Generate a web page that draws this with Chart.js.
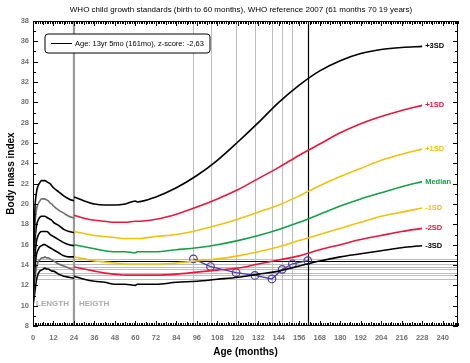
<!DOCTYPE html>
<html>
<head>
<meta charset="utf-8">
<script src="https://cdn.jsdelivr.net/npm/chart.js@4.4.1/dist/chart.umd.min.js"></script>
<style>
  html, body { margin: 0; padding: 0; background: #fff; }
</style>
</head>
<body>
<canvas id="growth" width="470" height="363"></canvas>
<script>
// WHO standards, BMI-for-length 0-24 months
const lenAges = [0, 1, 2, 3, 4, 5, 6, 7, 8, 9, 10, 11, 12, 15, 18, 21, 24];
const lenP3 = [11.2, 19.0, 21.1, 21.8, 22.1, 22.3, 22.3, 22.3, 22.2, 22.1, 22.0, 21.8, 21.6, 21.2, 20.8, 20.5, 20.3];
const lenP2 = [11.0, 17.4, 19.4, 20.0, 20.3, 20.5, 20.5, 20.5, 20.4, 20.3, 20.1, 20.0, 19.8, 19.4, 19.1, 18.8, 18.6];
const lenP1 = [10.8, 15.9, 17.8, 18.4, 18.7, 18.8, 18.8, 18.8, 18.7, 18.6, 18.5, 18.4, 18.2, 17.9, 17.5, 17.3, 17.2];
const lenMed = [10.6, 14.6, 16.3, 16.9, 17.2, 17.3, 17.3, 17.3, 17.3, 17.2, 17.0, 16.9, 16.8, 16.5, 16.2, 16.0, 15.9];
const lenM1 = [10.4, 13.4, 15.0, 15.5, 15.8, 15.9, 16.0, 16.0, 15.9, 15.8, 15.7, 15.6, 15.5, 15.2, 14.9, 14.8, 14.8];
const lenM2 = [10.2, 12.3, 13.7, 14.3, 14.5, 14.7, 14.7, 14.8, 14.7, 14.7, 14.6, 14.5, 14.4, 14.1, 13.9, 13.7, 13.5];
const lenM3 = [10.0, 11.2, 12.5, 13.1, 13.4, 13.5, 13.6, 13.7, 13.6, 13.6, 13.5, 13.4, 13.4, 13.1, 12.9, 12.8, 12.7];

// BMI-for-height 24-60 months, then WHO reference 2007 from 61 months
const refAges = [24, 30, 36, 42, 48, 54, 60, 61, 72, 84, 96, 108, 120, 132, 144, 156, 168, 180, 192, 204, 216, 228];
const refP3 = [20.7, 20.3, 20.0, 19.9, 19.9, 20.0, 20.3, 20.2, 20.7, 21.6, 22.8, 24.3, 26.1, 28.0, 30.0, 31.7, 33.1, 34.1, 34.8, 35.2, 35.4, 35.5];
const refP2 = [18.9, 18.6, 18.4, 18.3, 18.2, 18.2, 18.3, 18.3, 18.5, 19.0, 19.7, 20.5, 21.4, 22.5, 23.6, 24.8, 25.9, 27.0, 27.9, 28.6, 29.2, 29.7];
const refP1 = [17.3, 17.1, 16.9, 16.8, 16.7, 16.6, 16.6, 16.6, 16.8, 17.0, 17.4, 17.9, 18.5, 19.2, 19.9, 20.8, 21.8, 22.7, 23.5, 24.3, 24.9, 25.4];
const refMed = [16.0, 15.8, 15.6, 15.4, 15.3, 15.3, 15.2, 15.3, 15.3, 15.5, 15.7, 16.0, 16.4, 16.9, 17.5, 18.2, 19.0, 19.8, 20.5, 21.1, 21.7, 22.2];
const refM1 = [14.8, 14.6, 14.4, 14.3, 14.2, 14.1, 14.1, 14.1, 14.1, 14.2, 14.4, 14.6, 14.9, 15.3, 15.8, 16.4, 17.0, 17.6, 18.2, 18.8, 19.2, 19.6];
const refM2 = [13.8, 13.6, 13.4, 13.2, 13.1, 13.0, 13.0, 13.0, 13.0, 13.1, 13.3, 13.5, 13.7, 14.1, 14.5, 14.9, 15.5, 16.0, 16.5, 16.9, 17.3, 17.6];
const refM3 = [12.9, 12.6, 12.4, 12.3, 12.1, 12.1, 12.0, 12.1, 12.1, 12.3, 12.4, 12.6, 12.8, 13.1, 13.4, 13.9, 14.4, 14.8, 15.1, 15.4, 15.7, 15.9];

// patient measurements
const visitAges = [94, 104, 119, 130, 140, 146, 152, 161];
const visitBmi = [14.6, 13.85, 13.25, 12.97, 12.63, 13.57, 14.12, 14.42];

const curveLabels = ["+3SD", "+1SD", "+1SD", "Median", "-1SD", "-2SD", "-3SD"];
const xTicks = [0, 12, 24, 36, 48, 60, 72, 84, 96, 108, 120, 132, 144, 156, 168, 180, 192, 204, 216, 228, 240];

const RED = "#e8173c";
const YELLOW = "#efc20f";
const GREEN = "#12a147";
const GREY = "#6f6f6f";
const PURPLE = "#4f3aa6";
const FONT = "'Liberation Sans', Arial, sans-serif";

const refCurves = [refP3, refP2, refP1, refMed, refM1, refM2, refM3];
const refColors = ["#000", RED, YELLOW, GREEN, YELLOW, RED, "#000"];
const lenCurves = [lenP3, lenP2, lenP1, lenMed, lenM1, lenM2, lenM3];
const lenColors = ["#000", GREY, "#000", "#000", "#000", GREY, "#000"];

function series(ages, vals) {
  return ages.map((a, i) => ({ x: a, y: vals[i] }));
}

function curve(ages, vals, color) {
  return {
    data: series(ages, vals),
    borderColor: color,
    borderWidth: 1.6,
    pointRadius: 0,
    cubicInterpolationMode: "monotone",
    fill: false,
  };
}

const datasets = [];
lenCurves.forEach((c, i) => datasets.push(curve(lenAges, c, lenColors[i])));
refCurves.forEach((c, i) => datasets.push(curve(refAges, c, refColors[i])));
datasets.push({
  data: series(visitAges, visitBmi),
  borderColor: PURPLE,
  borderWidth: 1.3,
  pointRadius: 3.8,
  pointBorderWidth: 1.2,
  pointBackgroundColor: "rgba(0,0,0,0)",
  pointBorderColor: PURPLE,
  tension: 0,
  fill: false,
});

const guides = {
  id: "guides",
  beforeDatasetsDraw(chart) {
    const { ctx, chartArea: a, scales: { x, y } } = chart;
    ctx.save();
    ctx.lineWidth = 1;
    ctx.strokeStyle = "#bdbdbd";
    const last = visitAges.length - 1;
    visitAges.forEach((age, i) => {
      if (i === last) return;
      const px = Math.round(x.getPixelForValue(age)) + 0.5;
      const py = Math.round(y.getPixelForValue(visitBmi[i])) + 0.5;
      ctx.beginPath();
      ctx.moveTo(px, a.top); ctx.lineTo(px, a.bottom);
      ctx.moveTo(a.left, py); ctx.lineTo(a.right, py);
      ctx.stroke();
    });
    ctx.strokeStyle = "#000";
    ctx.lineWidth = 1.2;
    const lx = Math.round(x.getPixelForValue(visitAges[last])) + 0.5;
    const ly = Math.round(y.getPixelForValue(visitBmi[last])) + 0.5;
    ctx.beginPath();
    ctx.moveTo(lx, a.top); ctx.lineTo(lx, a.bottom);
    ctx.moveTo(a.left, ly); ctx.lineTo(a.right, ly);
    ctx.stroke();

    // length / height divider
    const dx = x.getPixelForValue(24);
    ctx.strokeStyle = "#9a9a9a";
    ctx.lineWidth = 2.2;
    ctx.beginPath();
    ctx.moveTo(dx, a.top); ctx.lineTo(dx, a.bottom);
    ctx.stroke();

    ctx.fillStyle = "#ababab";
    ctx.font = "bold 8px " + FONT;
    ctx.textBaseline = "middle";
    ctx.textAlign = "right";
    ctx.fillText("LENGTH", dx - 5, y.getPixelForValue(10.2));
    ctx.textAlign = "left";
    ctx.fillText("HEIGTH", dx + 5, y.getPixelForValue(10.2));
    ctx.restore();
  },
  afterDraw(chart) {
    const { ctx, chartArea: a, scales: { x, y } } = chart;
    ctx.save();
    // frame
    ctx.strokeStyle = "#000";
    ctx.lineWidth = 1;
    ctx.strokeRect(a.left + 0.5, a.top + 0.5, a.right - a.left - 1, a.bottom - a.top - 1);

    // ruler ticks
    ctx.beginPath();
    for (let m = 0; m <= x.max; m++) {
      const px = Math.round(x.getPixelForValue(m)) + 0.5;
      const len = m % 12 === 0 ? 5 : m % 6 === 0 ? 4 : 3;
      ctx.moveTo(px, a.bottom); ctx.lineTo(px, a.bottom - len);
      ctx.moveTo(px, a.top); ctx.lineTo(px, a.top + len);
    }
    for (let v = y.min; v <= y.max; v++) {
      const py = Math.round(y.getPixelForValue(v)) + 0.5;
      const len = v % 2 === 0 ? 5 : 3;
      ctx.moveTo(a.left, py); ctx.lineTo(a.left + len, py);
      ctx.moveTo(a.right, py); ctx.lineTo(a.right - len, py);
    }
    ctx.stroke();

    // curve end labels
    ctx.font = "bold 7.5px " + FONT;
    ctx.textAlign = "left";
    ctx.textBaseline = "middle";
    refCurves.forEach((c, i) => {
      ctx.fillStyle = refColors[i];
      ctx.fillText(curveLabels[i], x.getPixelForValue(refAges[refAges.length - 1]) + 3, y.getPixelForValue(c[c.length - 1]));
    });

    // titles
    ctx.fillStyle = "#000";
    ctx.textAlign = "center";
    ctx.font = "8px " + FONT;
    ctx.fillText("WHO child growth standards (birth to 60 months), WHO reference 2007 (61 months 70 19 years)", 241, 10);
    ctx.font = "bold 10px " + FONT;
    ctx.fillText("Age (months)", (a.left + a.right) / 2, 352);
    ctx.save();
    ctx.translate(11.5, (a.top + a.bottom) / 2);
    ctx.rotate(-Math.PI / 2);
    ctx.fillText("Body mass index", 0, 0);
    ctx.restore();

    // legend box
    const bx = 45, by = 34, bw = 165, bh = 19, r = 3;
    ctx.fillStyle = "#fff";
    ctx.beginPath();
    ctx.moveTo(bx + r, by);
    ctx.arcTo(bx + bw, by, bx + bw, by + bh, r);
    ctx.arcTo(bx + bw, by + bh, bx, by + bh, r);
    ctx.arcTo(bx, by + bh, bx, by, r);
    ctx.arcTo(bx, by, bx + bw, by, r);
    ctx.closePath();
    ctx.fill();
    ctx.stroke();
    ctx.beginPath();
    ctx.moveTo(bx + 6, by + bh / 2);
    ctx.lineTo(bx + 27, by + bh / 2);
    ctx.stroke();
    ctx.fillStyle = "#000";
    ctx.textAlign = "left";
    ctx.font = "7.5px " + FONT;
    ctx.fillText("Age: 13yr 5mo (161mo), z-score: -2,63", bx + 30, by + bh / 2 + 0.5);
    ctx.restore();
  },
};

new Chart(document.getElementById("growth"), {
  type: "line",
  data: { datasets },
  options: {
    responsive: false,
    animation: false,
    layout: { padding: { top: 21, right: 12, left: 0, bottom: 0 } },
    plugins: { legend: { display: false }, tooltip: { enabled: false } },
    scales: {
      x: {
        type: "linear",
        min: 0,
        max: 249,
        grid: { display: false, drawTicks: false },
        border: { display: false },
        ticks: { stepSize: 12, color: "#707070", padding: 7, maxRotation: 0, autoSkip: false, font: { size: 7.5, weight: "bold", family: FONT } },
        afterBuildTicks: (s) => { s.ticks = xTicks.map((v) => ({ value: v })); },
        afterFit: (s) => { s.height = 37; },
      },
      y: {
        min: 8,
        max: 38,
        grid: { display: false, drawTicks: false },
        border: { display: false },
        ticks: { stepSize: 2, color: "#707070", padding: 4, font: { size: 7.5, weight: "bold", family: FONT } },
        afterFit: (s) => { s.width = 33; },
      },
    },
  },
  plugins: [guides],
});
</script>
</body>
</html>
